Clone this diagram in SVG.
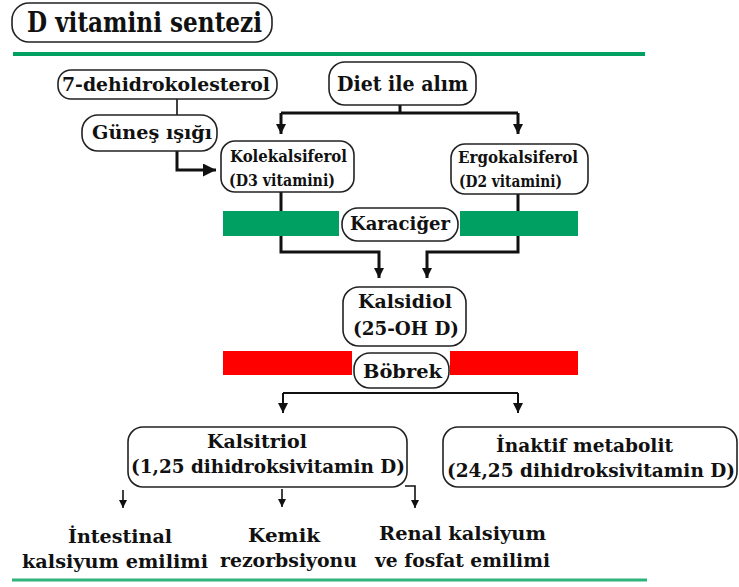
<svg xmlns="http://www.w3.org/2000/svg" width="739" height="587" viewBox="0 0 739 587">
<style>
.box{fill:#fff;stroke:#222;stroke-width:1.6}
.t{font-family:'DejaVu Serif','Liberation Serif',serif;font-weight:bold;fill:#111;text-anchor:middle}
.c3{fill:none;stroke:#111;stroke-width:3}
.c2{fill:none;stroke:#111;stroke-width:2}
.c1{fill:none;stroke:#111;stroke-width:1.6}
</style>
<defs>
<marker id="ah" markerUnits="userSpaceOnUse" markerWidth="10" markerHeight="10" viewBox="0 0 10 10" refX="10" refY="5" orient="auto"><path d="M0,0 L10,5 L0,10 z" fill="#111"/></marker>
<marker id="ahs" markerUnits="userSpaceOnUse" markerWidth="8" markerHeight="8" viewBox="0 0 10 10" refX="10" refY="5" orient="auto"><path d="M0,0 L10,5 L0,10 z" fill="#111"/></marker>
<marker id="ahb" markerUnits="userSpaceOnUse" markerWidth="13" markerHeight="13" viewBox="0 0 10 10" refX="10" refY="5" orient="auto"><path d="M0,0 L10,5 L0,10 z" fill="#111"/></marker>
</defs>
<rect width="739" height="587" fill="#fff"/>
<line x1="13" y1="54" x2="645" y2="54" stroke="#00a060" stroke-width="4"/>
<line x1="12" y1="580" x2="647" y2="580" stroke="#2fb37c" stroke-width="3"/>

<g id="connectors">
<path class="c1" d="M177,99 V115"/>
<path class="c3" d="M177,151 V170 H216" marker-end="url(#ahb)"/>
<path class="c3" d="M400,105 V113"/>
<path class="c3" d="M281,113 H518"/>
<path class="c3" d="M281,113 V134" marker-end="url(#ah)"/>
<path class="c3" d="M518,113 V134" marker-end="url(#ah)"/>
<path class="c3" d="M281,192 V252 H379 V278" marker-end="url(#ah)"/>
<path class="c3" d="M518,194 V252 H427 V278" marker-end="url(#ah)"/>
<path class="c2" d="M283,393 H518"/>
<path class="c2" d="M283,393 V413" marker-end="url(#ah)"/>
<path class="c2" d="M518,393 V413" marker-end="url(#ah)"/>
<path class="c1" d="M123,490 V508" marker-end="url(#ahs)"/>
<path class="c1" d="M282,489 V507" marker-end="url(#ahs)"/>
<path class="c1" d="M405,486 H415 V508" marker-end="url(#ahs)"/>
</g>

<g id="karaciger-bars">
<rect x="223" y="211" width="116" height="25" fill="#00a062"/>
<rect x="460" y="211" width="118" height="25" fill="#00a062"/>
</g>
<g id="bobrek-bars">
<rect x="223" y="351" width="129" height="24" fill="#ff0000"/>
<rect x="450" y="351" width="128" height="24" fill="#ff0000"/>
</g>

<g id="title">
<rect class="box" x="12" y="3" width="260" height="39" rx="17"/>
<text class="t" x="144.5" y="32" font-size="27" textLength="235" lengthAdjust="spacingAndGlyphs">D vitamini sentezi</text>
</g>
<g id="dehidro">
<rect class="box" x="58" y="70" width="219" height="29" rx="13"/>
<text class="t" x="166" y="91" font-size="19" textLength="208" lengthAdjust="spacingAndGlyphs">7-dehidrokolesterol</text>
</g>
<g id="diet">
<rect class="box" x="329" y="62" width="147" height="43" rx="16"/>
<text class="t" x="402.5" y="91" font-size="21" textLength="131" lengthAdjust="spacingAndGlyphs">Diet ile alım</text>
</g>
<g id="gunes">
<rect class="box" x="82" y="115" width="135" height="36" rx="16"/>
<text class="t" x="152" y="139" font-size="19" textLength="120" lengthAdjust="spacingAndGlyphs">Güneş ışığı</text>
</g>
<g id="kolekalsiferol">
<rect class="box" x="221" y="141" width="133" height="51" rx="14"/>
<text class="t" x="288.5" y="162" font-size="16" textLength="117" lengthAdjust="spacingAndGlyphs">Kolekalsiferol</text>
<text class="t" x="282" y="186" font-size="16" textLength="106" lengthAdjust="spacingAndGlyphs">(D3 vitamini)</text>
</g>
<g id="ergokalsiferol">
<rect class="box" x="451" y="144" width="137" height="50" rx="14"/>
<text class="t" x="518" y="163" font-size="16" textLength="120" lengthAdjust="spacingAndGlyphs">Ergokalsiferol</text>
<text class="t" x="510.5" y="187" font-size="16" textLength="103" lengthAdjust="spacingAndGlyphs">(D2 vitamini)</text>
</g>
<g id="karaciger">
<rect class="box" x="342" y="208" width="116" height="33" rx="16"/>
<text class="t" x="400" y="230" font-size="18" textLength="100" lengthAdjust="spacingAndGlyphs">Karaciğer</text>
</g>
<g id="kalsidiol">
<rect class="box" x="343" y="287" width="123" height="59" rx="16"/>
<text class="t" x="405" y="308" font-size="18" textLength="94" lengthAdjust="spacingAndGlyphs">Kalsidiol</text>
<text class="t" x="406" y="335" font-size="18" textLength="106" lengthAdjust="spacingAndGlyphs">(25-OH D)</text>
</g>
<g id="bobrek">
<rect class="box" x="354" y="353" width="95" height="35" rx="16"/>
<text class="t" x="402.5" y="378" font-size="18" textLength="79" lengthAdjust="spacingAndGlyphs">Böbrek</text>
</g>
<g id="kalsitriol">
<rect class="box" x="128" y="427" width="279" height="60" rx="15"/>
<text class="t" x="257" y="448" font-size="18" textLength="100" lengthAdjust="spacingAndGlyphs">Kalsitriol</text>
<text class="t" x="268" y="473" font-size="18" textLength="274" lengthAdjust="spacingAndGlyphs">(1,25 dihidroksivitamin D)</text>
</g>
<g id="inaktif">
<rect class="box" x="443" y="427" width="294" height="60" rx="15"/>
<text class="t" x="584.5" y="452" font-size="18" textLength="177" lengthAdjust="spacingAndGlyphs">İnaktif metabolit</text>
<text class="t" x="591" y="477" font-size="18" textLength="288" lengthAdjust="spacingAndGlyphs">(24,25 dihidroksivitamin D)</text>
</g>
<g id="intestinal">
<text class="t" x="120" y="543" font-size="18" textLength="104" lengthAdjust="spacingAndGlyphs">İntestinal</text>
<text class="t" x="115" y="568" font-size="18" textLength="186" lengthAdjust="spacingAndGlyphs">kalsiyum emilimi</text>
</g>
<g id="kemik">
<text class="t" x="284" y="542" font-size="18" textLength="72" lengthAdjust="spacingAndGlyphs">Kemik</text>
<text class="t" x="288.5" y="567" font-size="18" textLength="137" lengthAdjust="spacingAndGlyphs">rezorbsiyonu</text>
</g>
<g id="renal">
<text class="t" x="462.5" y="540" font-size="18" textLength="167" lengthAdjust="spacingAndGlyphs">Renal kalsiyum</text>
<text class="t" x="462.5" y="567" font-size="18" textLength="175" lengthAdjust="spacingAndGlyphs">ve fosfat emilimi</text>
</g>
</svg>
